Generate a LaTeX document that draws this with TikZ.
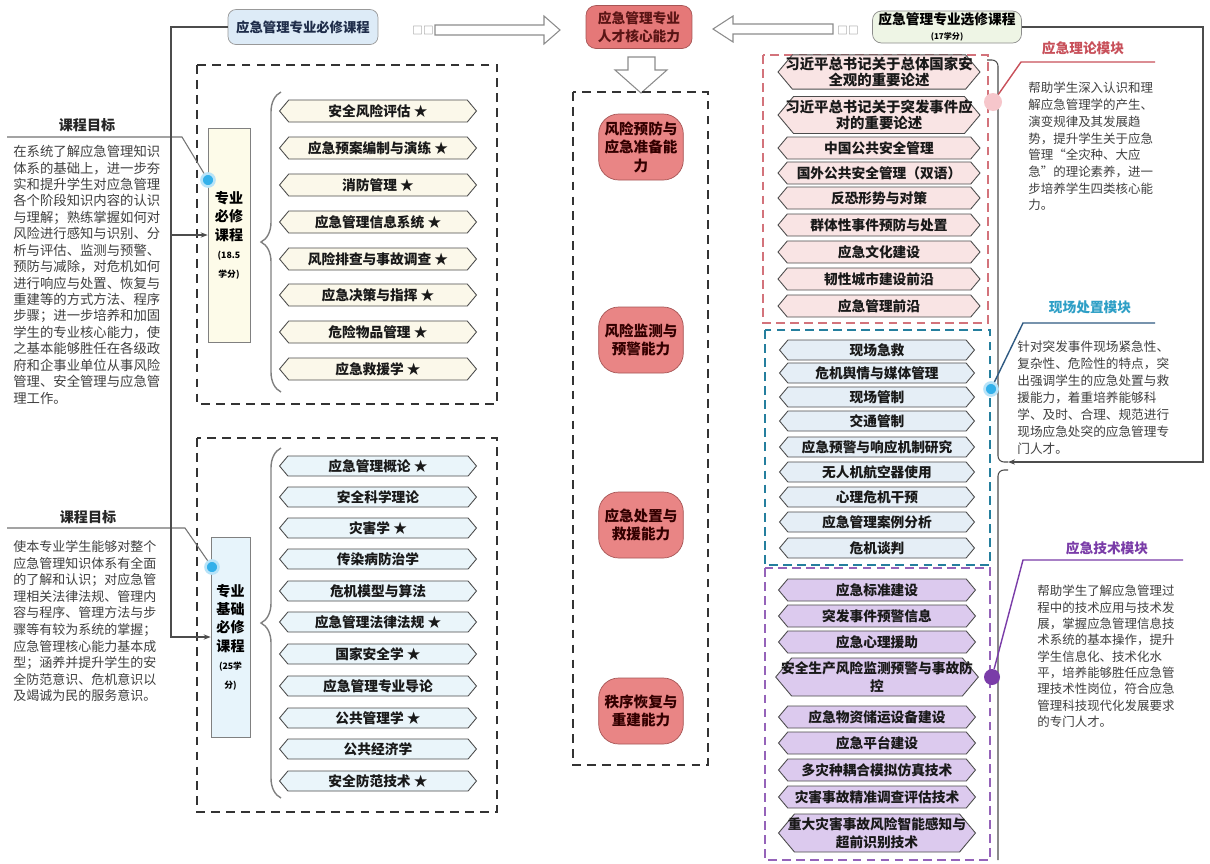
\documentclass[tikz,border=0pt]{standalone}
\usepackage{fontspec}
\setmainfont{Noto Sans CJK SC}
\usetikzlibrary{shapes.symbols,decorations.pathreplacing,arrows.meta}

\definecolor{reqfill}{HTML}{FBF8EA}
\definecolor{basfill}{HTML}{EAF5FA}
\definecolor{thfill}{HTML}{F9E4E4}
\definecolor{scfill}{HTML}{E5EEF6}
\definecolor{tefill}{HTML}{DCCAEE}
\definecolor{capred}{HTML}{E98585}
\definecolor{capline}{HTML}{A65555}
\definecolor{thred}{HTML}{C8505A}
\definecolor{scteal}{HTML}{2E9FC6}
\definecolor{scline}{HTML}{2F5A82}
\definecolor{tepur}{HTML}{7A3CA8}
\definecolor{dotblue}{HTML}{33B0EA}
\definecolor{descgray}{HTML}{404040}

\tikzset{
  course/.style={signal, signal to=west and east, signal pointer angle=100,
    draw=black!70, line width=0.5pt, fill=#1, inner xsep=-6pt, inner ysep=1pt,
    minimum height=0.44cm, minimum width=3.94cm, align=center, text=black!90,
    font=\bfseries\fontsize{7.8}{10}\selectfont},
  capsule/.style={rectangle, rounded corners=0.4cm, draw=capline, fill=capred,
    minimum width=1.64cm, minimum height=1.32cm, align=center,
    font=\bfseries\fontsize{8.3}{10.5}\selectfont, text=black!80!red},
  desc/.style={anchor=north west, inner sep=0pt, align=left, text=descgray},
  blockdash/.style={draw=black!80, dash pattern=on 5pt off 3.5pt, line width=1.1pt},
  flow/.style={draw=black!70, line width=0.6pt, -{Stealth[length=4pt,width=3pt]}},
  hollow/.style={draw=black!45, fill=white, line width=0.6pt},
  leader/.style={draw=black!55, line width=0.6pt},
  glow/.style={circle, inner sep=0pt, minimum size=0.26cm, fill=dotblue, draw=dotblue!35, line width=1.5pt},
}

\begin{document}
\begin{tikzpicture}[x=0.02cm, y=-0.02cm, >=stealth]
    % Curriculum map: courses -> core abilities <- elective modules
    \fill[white] (0,0) rectangle (1210,863);
    \useasboundingbox (0,0) rectangle (1210,863);

    \node (reqtitle) at (303,27) [rectangle, rounded corners=0.16cm, draw=black!40, fill={rgb,255:red,221;green,235;blue,247}, minimum width=3cm, minimum height=0.7cm, font=\bfseries\fontsize{7.6}{9}\selectfont, text={rgb,255:red,31;green,45;blue,74}] {应急管理专业必修课程};
    \node (core) at (639,27) [rectangle, rounded corners=0.2cm, draw=capline, fill={rgb,255:red,229;green,120;blue,120}, minimum width=2.12cm, minimum height=0.86cm, align=center, font=\bfseries\fontsize{7.8}{10}\selectfont, text={rgb,255:red,90;green,21;blue,21}] {应急管理专业\\人才核心能力};
    \node (elec) at (947,27) [rectangle, rounded corners=0.18cm, draw=black!45, fill={rgb,255:red,238;green,245;blue,229}, minimum width=2.98cm, minimum height=0.64cm, align=center, inner ysep=1pt, font=\bfseries\fontsize{7.8}{8.5}\selectfont] {应急管理专业选修课程\\{\fontsize{4.6}{5}\selectfont (17学分)}};

    \node (sqL) at (423,30) [text=black!50, font=\fontsize{6}{6}\selectfont] {□□};
    \node (sqR) at (848,30) [text=black!50, font=\fontsize{6}{6}\selectfont] {□□};
    \draw[hollow] (435,25) -- (544,25) -- (544,16) -- (560,30) -- (544,44) -- (544,35) -- (435,35) -- cycle;
    \draw[hollow] (833,24) -- (733,24) -- (733,16) -- (713,29) -- (733,42) -- (733,34) -- (833,34) -- cycle;
    \draw[hollow] (628,57) -- (655,57) -- (655,70) -- (667,70) -- (641,93) -- (615,70) -- (628,70) -- cycle;

    % left: goals
    \node (goalA) at (87,125) [font=\bfseries\fontsize{8}{9}\selectfont, text=black!85] {课程目标};
    \node (goalAtext) at (13,145) [desc, font=\fontsize{7.6}{9.35}\selectfont] {在系统了解应急管理知识\\体系的基础上，进一步夯\\实和提升学生对应急管理\\各个阶段知识内容的认识\\与理解；熟练掌握如何对\\风险进行感知与识别、分\\析与评估、监测与预警、\\预防与减除，对危机如何\\进行响应与处置、恢复与\\重建等的方式方法、程序\\步骤；进一步培养和加固\\学生的专业核心能力，使\\之基本能够胜任在各级政\\府和企事业单位从事风险\\管理、安全管理与应急管\\理工作。};
    \node (goalB) at (88,517) [font=\bfseries\fontsize{8}{9}\selectfont, text=black!85] {课程目标};
    \node (goalBtext) at (13,540) [desc, font=\fontsize{7.4}{9.45}\selectfont] {使本专业学生能够对整个\\应急管理知识体系有全面\\的了解和认识；对应急管\\理相关法律法规、管理内\\容与程序、管理方法与步\\骤等有较为系统的掌握；\\应急管理核心能力基本成\\型；涵养并提升学生的安\\全防范意识、危机意识以\\及竭诚为民的服务意识。};

    % left: required courses
    \draw[blockdash] (197,65) rectangle (497,404);
    \node (majA) at (229,235) [rectangle, draw=black!50, fill={rgb,255:red,253;green,251;blue,233}, minimum width=0.84cm, minimum height=4.28cm, align=center, inner sep=1pt, font=\bfseries\fontsize{8}{10.5}\selectfont] {专业\\必修\\课程\\{\fontsize{5}{6}\selectfont (18.5}\\{\fontsize{5}{6}\selectfont 学分)}};
    \draw[gray, line width=0.8pt, decorate, decoration={brace, amplitude=0.4cm}] (281,392) -- (281,92);
    \node (req1) at (378,111) [course=reqfill] {安全风险评估 ★};
    \node (req2) at (378,148) [course=reqfill] {应急预案编制与演练 ★};
    \node (req3) at (378,185) [course=reqfill] {消防管理 ★};
    \node (req4) at (378,222) [course=reqfill] {应急管理信息系统 ★};
    \node (req5) at (378,259) [course=reqfill] {风险排查与事故调查 ★};
    \node (req6) at (378,295) [course=reqfill] {应急决策与指挥 ★};
    \node (req7) at (378,332) [course=reqfill] {危险物品管理 ★};
    \node (req8) at (378,369) [course=reqfill] {应急救援学 ★};

    % left: basic courses
    \draw[blockdash] (197,438) rectangle (497,812);
    \node (majB) at (230.5,637) [rectangle, draw=black!50, fill={rgb,255:red,231;green,244;blue,251}, minimum width=0.78cm, minimum height=4cm, align=center, inner sep=1pt, font=\bfseries\fontsize{8}{10.5}\selectfont] {专业\\基础\\必修\\课程\\{\fontsize{5}{6}\selectfont (25学}\\{\fontsize{5}{6}\selectfont 分)}};
    \draw[gray, line width=0.8pt, decorate, decoration={brace, amplitude=0.4cm}] (281,798) -- (281,448);
    \node (bas1) at (378,466) [course=basfill, minimum height=0.4cm] {应急管理概论 ★};
    \node (bas2) at (378,497) [course=basfill, minimum height=0.4cm] {安全科学理论};
    \node (bas3) at (378,528) [course=basfill, minimum height=0.4cm] {灾害学 ★};
    \node (bas4) at (378,559) [course=basfill, minimum height=0.4cm] {传染病防治学};
    \node (bas5) at (378,591) [course=basfill, minimum height=0.4cm] {危机模型与算法};
    \node (bas6) at (378,622) [course=basfill, minimum height=0.4cm] {应急管理法律法规 ★};
    \node (bas7) at (378,654) [course=basfill, minimum height=0.4cm] {国家安全学 ★};
    \node (bas8) at (378,686) [course=basfill, minimum height=0.4cm] {应急管理专业导论};
    \node (bas9) at (378,718) [course=basfill, minimum height=0.4cm] {公共管理学 ★};
    \node (bas10) at (378,749) [course=basfill, minimum height=0.4cm] {公共经济学};
    \node (bas11) at (378,781) [course=basfill, minimum height=0.4cm] {安全防范技术 ★};

    \node (dotA) at (208,180) [glow] {};
    \node (dotB) at (212,567) [glow] {};
    \coordinate (gA1) at (7,137);
    \coordinate (gA2) at (182,137);
    \coordinate (gB1) at (7,528);
    \coordinate (gB2) at (185,528);
    \draw[leader] (gA1) -- (gA2) -- (dotA);
    \draw[leader] (gB1) -- (gB2) -- (dotB);

    \coordinate (lc1) at (171,235);
    \draw[flow] (reqtitle.west) -| (lc1) -- (majA.west);
    \draw[flow] (lc1) |- (majB.west);

    % center: core abilities
    \draw[blockdash] (573,92) rectangle (708,765);
    \node (cap1) at (641,147) [capsule] {风险预防与\\应急准备能\\力};
    \node (cap2) at (641,340) [capsule] {风险监测与\\预警能力};
    \node (cap3) at (641,525) [capsule] {应急处置与\\救援能力};
    \node (cap4) at (641,711) [capsule] {秩序恢复与\\重建能力};

    % right: theory module
    \draw[draw=thred!80, dash pattern=on 5pt off 3pt, line width=1pt] (763,55) rectangle (988,323);
    \node (th1) at (879,72) [course=thfill, minimum width=4.04cm, minimum height=0.64cm, font=\bfseries\fontsize{8.2}{9.6}\selectfont] {习近平总书记关于总体国家安\\全观的重要论述};
    \node (th2) at (879,115) [course=thfill, minimum width=4.04cm, minimum height=0.74cm, font=\bfseries\fontsize{8.2}{9.6}\selectfont] {习近平总书记关于突发事件应\\对的重要论述};
    \node (th3) at (879,148) [course=thfill, minimum width=4.04cm] {中国公共安全管理};
    \node (th4) at (879,173) [course=thfill, minimum width=4.04cm] {国外公共安全管理（双语）};
    \node (th5) at (879,198) [course=thfill, minimum width=4.04cm] {反恐形势与对策};
    \node (th6) at (879,225) [course=thfill, minimum width=4.04cm] {群体性事件预防与处置};
    \node (th7) at (879,252) [course=thfill, minimum width=4.04cm] {应急文化建设};
    \node (th8) at (879,279) [course=thfill, minimum width=4.04cm] {韧性城市建设前沿};
    \node (th9) at (879,306) [course=thfill, minimum width=4.04cm] {应急管理前沿};

    % right: on-site module
    \draw[draw=scteal!80!black, dash pattern=on 5pt off 3pt, line width=1pt] (765,330) rectangle (990,565);
    \node (sc1) at (877,350) [course=scfill, minimum width=3.9cm, minimum height=0.4cm] {现场急救};
    \node (sc2) at (877,373) [course=scfill, minimum width=3.9cm, minimum height=0.4cm] {危机舆情与媒体管理};
    \node (sc3) at (877,397) [course=scfill, minimum width=3.9cm, minimum height=0.4cm] {现场管制};
    \node (sc4) at (877,421) [course=scfill, minimum width=3.9cm, minimum height=0.4cm] {交通管制};
    \node (sc5) at (877,447) [course=scfill, minimum width=3.9cm, minimum height=0.4cm] {应急预警与响应机制研究};
    \node (sc6) at (877,472) [course=scfill, minimum width=3.9cm, minimum height=0.4cm] {无人机航空器使用};
    \node (sc7) at (877,497) [course=scfill, minimum width=3.9cm, minimum height=0.4cm] {心理危机干预};
    \node (sc8) at (877,522) [course=scfill, minimum width=3.9cm, minimum height=0.4cm] {应急管理案例分析};
    \node (sc9) at (877,548) [course=scfill, minimum width=3.9cm, minimum height=0.4cm] {危机谈判};

    % right: technology module
    \draw[draw=tepur!80, dash pattern=on 5pt off 3pt, line width=1pt] (765,568) rectangle (990,860);
    \node (te1) at (877,590) [course=tefill] {应急标准建设};
    \node (te2) at (877,616) [course=tefill] {突发事件预警信息};
    \node (te3) at (877,642) [course=tefill] {应急心理援助};
    \node (te4) at (877,677) [course=tefill, minimum height=0.76cm] {安全生产风险监测预警与事故防\\控};
    \node (te5) at (877,717) [course=tefill] {应急物资储运设备建设};
    \node (te6) at (877,743) [course=tefill] {应急平台建设};
    \node (te7) at (877,770) [course=tefill] {多灾种耦合模拟仿真技术};
    \node (te8) at (877,797) [course=tefill] {灾害事故精准调查评估技术};
    \node (te9) at (877,833) [course=tefill, minimum height=0.76cm] {重大灾害事故风险智能感知与\\超前识别技术};

    % right: brackets and module notes
    \draw[black!70, line width=0.6pt, rounded corners=0.12cm] (987,60) -| (998,462) -- (1008,462);
    \draw[black!70, line width=0.6pt, rounded corners=0.12cm] (1008,470) -| (998,860);
    \coordinate (rc1) at (1203,462);
    \coordinate (rc2) at (1008,462);
    \draw[flow] (elec.east) -| (rc1) -- (rc2);

    \node (thtitle) at (1083,48) [font=\bfseries\fontsize{7.8}{9}\selectfont, text=thred] {应急理论模块};
    \node (dotth) at (993,102) [circle, inner sep=0pt, minimum size=0.36cm, fill={rgb,255:red,246;green,198;blue,203}] {};
    \coordinate (tl1) at (1155,62);
    \coordinate (tl2) at (1021,62);
    \draw[thred, line width=0.8pt] (tl1) -- (tl2) -- (dotth);
    \node (thtext) at (1028,82) [desc, font=\fontsize{7.1}{9.5}\selectfont] {帮助学生深入认识和理\\解应急管理学的产生、\\演变规律及其发展趋\\势，提升学生关于应急\\管理“全灾种、大应\\急”的理论素养，进一\\步培养学生四类核心能\\力。};

    \node (sctitle) at (1090,307) [font=\bfseries\fontsize{7.8}{9}\selectfont, text=scteal] {现场处置模块};
    \node (dotsc) at (991,389) [glow] {};
    \coordinate (sl1) at (1155,323);
    \coordinate (sl2) at (1023,323);
    \draw[scline, line width=0.8pt] (sl1) -- (sl2) -- (dotsc);
    \node (sctext) at (1017,340) [desc, font=\fontsize{7.2}{9.75}\selectfont] {针对突发事件现场紧急性、\\复杂性、危险性的特点，突\\出强调学生的应急处置与救\\援能力，着重培养能够科\\学、及时、合理、规范进行\\现场应急处突的应急管理专\\门人才。};

    \node (tetitle) at (1107,548) [font=\bfseries\fontsize{7.8}{9}\selectfont, text=tepur] {应急技术模块};
    \node (dotte) at (992,677) [circle, inner sep=0pt, minimum size=0.32cm, fill=tepur] {};
    \coordinate (pl1) at (1183,560);
    \coordinate (pl2) at (1023,560);
    \draw[tepur, line width=0.8pt] (pl1) -- (pl2) -- (dotte);
    \node (tetext) at (1037,585) [desc, font=\fontsize{7.1}{9.3}\selectfont] {帮助学生了解应急管理过\\程中的技术应用与技术发\\展，掌握应急管理信息技\\术系统的基本操作，提升\\学生信息化、技术化水\\平，培养能够胜任应急管\\理技术性岗位，符合应急\\管理科技现代化发展要求\\的专门人才。};
\end{tikzpicture}
\end{document}
